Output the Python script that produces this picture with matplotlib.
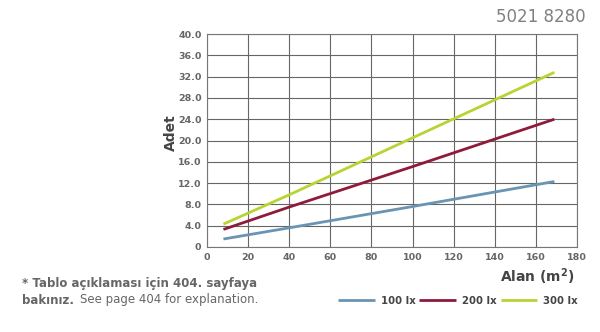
import matplotlib.pyplot as plt

# values
alan = [8, 40, 100, 169]
lux_100 = [1.5, 3.6, 7.6, 12.3]
lux_200 = [3.3, 7.5, 15.1, 24.0]
lux_300 = [4.3, 9.8, 20.5, 32.8]

series_labels = ["100 lx", "200 lx", "300 lx"]
colors = ["#6b94b3", "#8e1b3c", "#b7d432"]

x_ticks = list(range(0, 181, 20))
y_ticks = [0, 4, 8, 12, 16, 20, 24, 28, 32, 36, 40]
y_labels = ["0"] + ["%.1f" % v for v in y_ticks[1:]]

gray = "#666666"

fig = plt.figure(figsize=(6.0, 3.32), dpi=100)
ax = fig.add_axes([207 / 600, 1 - 247 / 332, 370 / 600, 213 / 332])

for ys, lab, c in zip([lux_100, lux_200, lux_300], series_labels, colors):
    ax.plot(alan, ys, color=c, lw=2.0, label=lab, solid_capstyle="butt")

ax.set_xlim(0, 180)
ax.set_ylim(0, 40)
ax.set_xticks(x_ticks)
ax.set_yticks(y_ticks)
ax.set_yticklabels(y_labels)
ax.grid(True, color="#666666", lw=0.8)
ax.set_axisbelow(True)
for s in ax.spines.values():
    s.set_color("#777777")
    s.set_linewidth(0.8)
ax.tick_params(length=0, pad=4, labelsize=6.8, labelcolor=gray)
for t in ax.get_xticklabels() + ax.get_yticklabels():
    t.set_fontweight("bold")

fig.text(171 / 600, 1 - 133 / 332, "Adet", rotation=90, ha="center", va="center",
         fontsize=10, fontweight="bold", color="#444444")
fig.text(575 / 600, 1 - 277 / 332, "Alan (m$^{\\mathbf{2}}$)", ha="right", va="center",
         fontsize=10, fontweight="bold", color="#444444")
fig.text(586 / 600, 1 - 17 / 332, "5021 8280", ha="right", va="center",
         fontsize=12, color="#808080")

fig.text(22 / 600, 1 - 283 / 332, "* Tablo açıklaması için 404. sayfaya",
         ha="left", va="center", fontsize=8.5, fontweight="bold", color=gray)
fig.text(22 / 600, 1 - 300 / 332, "bakınız.", ha="left", va="center",
         fontsize=8.5, fontweight="bold", color=gray)
fig.text(80 / 600, 1 - 300 / 332, "See page 404 for explanation.", ha="left",
         va="center", fontsize=8.5, color=gray)

leg = fig.legend(loc="center right", bbox_to_anchor=(582 / 600, 1 - 301 / 332),
                 ncol=3, frameon=False, fontsize=7.3, handlelength=3.6,
                 columnspacing=0.4, handletextpad=0.6, borderaxespad=0)
for t in leg.get_texts():
    t.set_color("#444444")
    t.set_fontweight("bold")

fig.savefig("out.png", dpi=100)
